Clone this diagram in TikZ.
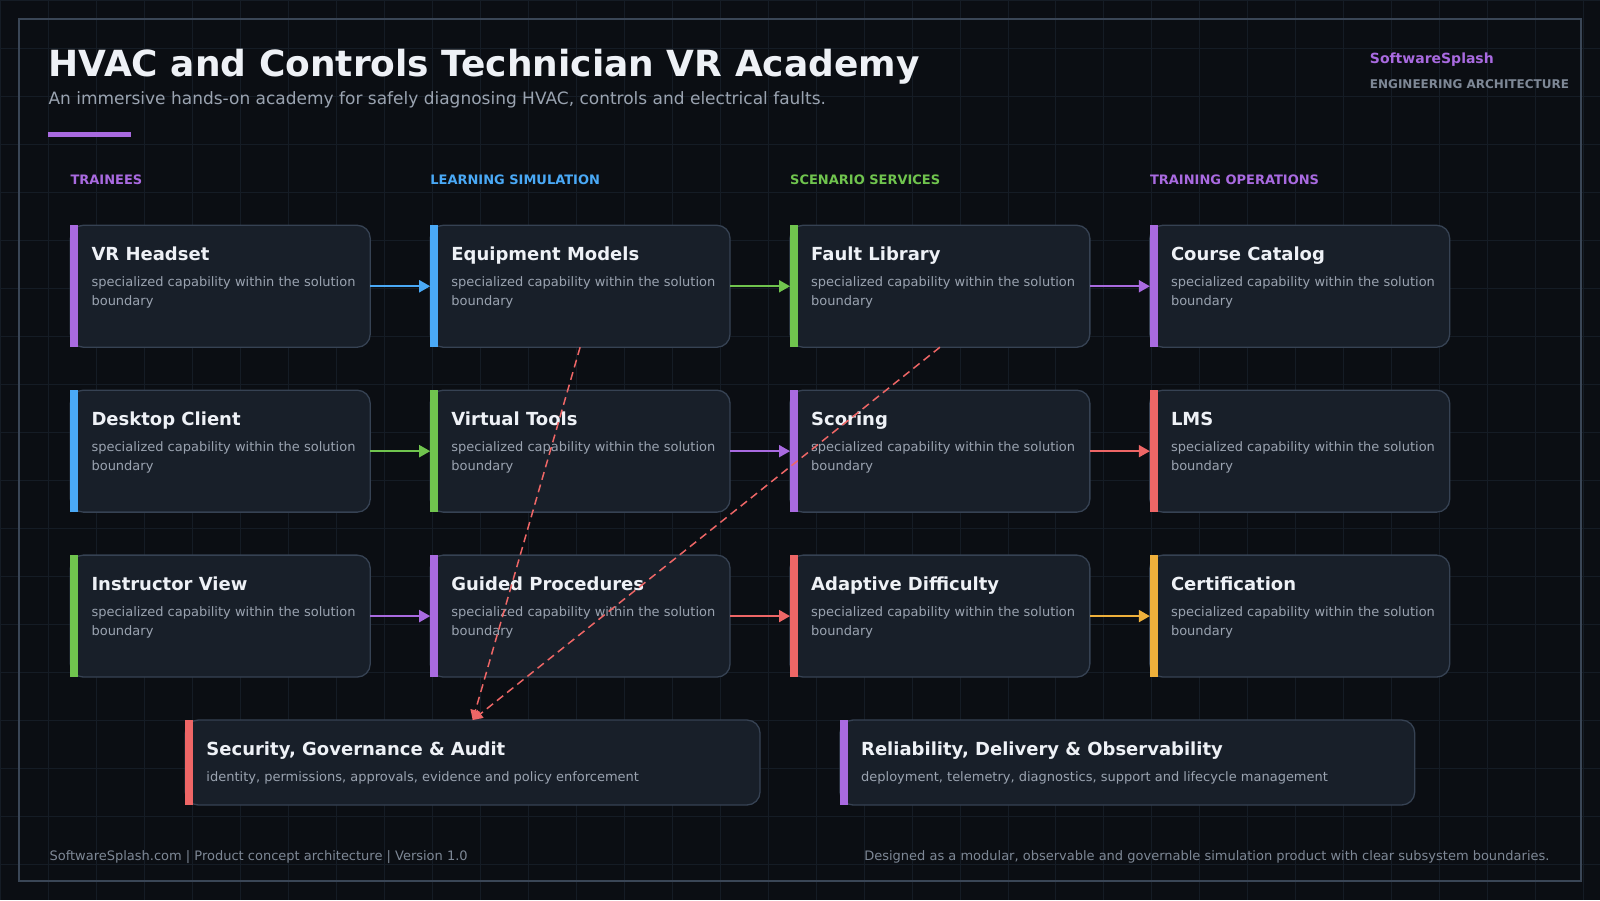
\documentclass[tikz,border=0pt]{standalone}
\usepackage{fontspec}
\setmainfont{DejaVu Sans}
\usepackage{xcolor}
\usetikzlibrary{arrows.meta,positioning,calc}

\definecolor{pagebg}{HTML}{0B0E13}
\definecolor{gridcol}{HTML}{151C25}
\definecolor{framecol}{HTML}{3A4656}
\definecolor{cardfill}{HTML}{181F29}
\definecolor{cardline}{HTML}{364253}
\definecolor{headtext}{HTML}{EEF1F6}
\definecolor{softtext}{HTML}{9AA3B0}
\definecolor{dimtext}{HTML}{7E8896}
\definecolor{accpurple}{HTML}{A96AE0}
\definecolor{accblue}{HTML}{4AA9F6}
\definecolor{accgreen}{HTML}{70C44E}
\definecolor{accred}{HTML}{EE6666}
\definecolor{accorange}{HTML}{EFB03B}

\begin{document}
\begin{tikzpicture}[
  x=1pt, y=-1pt,
  card/.style={draw=cardline,fill=cardfill,line width=1.3pt,rounded corners=13pt,minimum width=300pt,minimum height=122pt,inner sep=0pt,outer sep=0pt,anchor=north west},
  widecard/.style={card,minimum width=575pt,minimum height=85pt},
  ctitle/.style={anchor=base west,inner sep=0pt,text=headtext,font=\fontsize{18}{22}\selectfont\bfseries},
  cdesc/.style={anchor=north west,inner sep=0pt,align=left,text=softtext,font=\fontsize{13}{19.5}\selectfont},
  colhead/.style={anchor=west,inner sep=0pt,text=#1,font=\fontsize{13}{15}\selectfont\bfseries},
  flow/.style={-{Triangle[length=11pt,width=12pt]},line width=2pt,draw=#1},
  audit/.style={-{Triangle[length=10pt,width=10pt]},line width=1.5pt,draw=accred,dash pattern=on 8pt off 5pt},
  node distance=43pt and 60pt
]
% backdrop
\fill[pagebg] (0,0) rectangle (1600,900);
\draw[gridcol,line width=0.8pt] (0,900) grid[step=48pt] (1600,0);
\draw[framecol,line width=2pt] (19,19) rectangle (1581,881);

% heading
\node[anchor=base west,inner sep=0pt,text=headtext,font=\fontsize{36}{40}\selectfont\bfseries] (title) at (48,76) {HVAC and Controls Technician VR Academy};
\node[anchor=base west,inner sep=0pt,text=softtext,font=\fontsize{17}{20}\selectfont] (subtitle) at (48,104) {An immersive hands-on academy for safely diagnosing HVAC, controls and electrical faults.};
\fill[accpurple] (48,132) rectangle (131,137);
\node[anchor=base west,inner sep=0pt,text=accpurple,font=\fontsize{14}{17}\selectfont\bfseries] (brand) at (1370,63) {SoftwareSplash};
\node[anchor=base west,inner sep=0pt,text=dimtext,font=\fontsize{12}{14}\selectfont\bfseries] (brandsub) at (1370,88) {ENGINEERING ARCHITECTURE};

% lanes
\node[colhead=accpurple] (lane1) at (70,179) {TRAINEES};
\node[colhead=accblue] (lane2) at (430,179) {LEARNING SIMULATION};
\node[colhead=accgreen] (lane3) at (790,179) {SCENARIO SERVICES};
\node[colhead=accpurple] (lane4) at (1150,179) {TRAINING OPERATIONS};

% cards
\node[card] (vr) at (70,225) {};
\node[card,right=of vr] (equip) {};
\node[card,right=of equip] (fault) {};
\node[card,right=of fault] (catalog) {};
\node[card,below=of vr] (desktop) {};
\node[card,right=of desktop] (tools) {};
\node[card,right=of tools] (scoring) {};
\node[card,right=of scoring] (lms) {};
\node[card,below=of desktop] (instructor) {};
\node[card,right=of instructor] (guided) {};
\node[card,right=of guided] (adaptive) {};
\node[card,right=of adaptive] (cert) {};
\node[widecard] (security) at (185,720) {};
\node[widecard,right=80pt of security] (reliability) {};

% accent bars
\fill[accpurple] (vr.north west) rectangle ([xshift=8pt]vr.south west);
\fill[accblue] (equip.north west) rectangle ([xshift=8pt]equip.south west);
\fill[accgreen] (fault.north west) rectangle ([xshift=8pt]fault.south west);
\fill[accpurple] (catalog.north west) rectangle ([xshift=8pt]catalog.south west);
\fill[accblue] (desktop.north west) rectangle ([xshift=8pt]desktop.south west);
\fill[accgreen] (tools.north west) rectangle ([xshift=8pt]tools.south west);
\fill[accpurple] (scoring.north west) rectangle ([xshift=8pt]scoring.south west);
\fill[accred] (lms.north west) rectangle ([xshift=8pt]lms.south west);
\fill[accgreen] (instructor.north west) rectangle ([xshift=8pt]instructor.south west);
\fill[accpurple] (guided.north west) rectangle ([xshift=8pt]guided.south west);
\fill[accred] (adaptive.north west) rectangle ([xshift=8pt]adaptive.south west);
\fill[accorange] (cert.north west) rectangle ([xshift=8pt]cert.south west);
\fill[accred] (security.north west) rectangle ([xshift=8pt]security.south west);
\fill[accpurple] (reliability.north west) rectangle ([xshift=8pt]reliability.south west);

% card texts
\node[ctitle] (vr-t) at ([xshift=21pt,yshift=-35pt]vr.north west) {VR Headset};
\node[cdesc] (vr-d) at ([xshift=21pt,yshift=-51pt]vr.north west) {specialized capability within the solution\\boundary};
\node[ctitle] (equip-t) at ([xshift=21pt,yshift=-35pt]equip.north west) {Equipment Models};
\node[cdesc] (equip-d) at ([xshift=21pt,yshift=-51pt]equip.north west) {specialized capability within the solution\\boundary};
\node[ctitle] (fault-t) at ([xshift=21pt,yshift=-35pt]fault.north west) {Fault Library};
\node[cdesc] (fault-d) at ([xshift=21pt,yshift=-51pt]fault.north west) {specialized capability within the solution\\boundary};
\node[ctitle] (catalog-t) at ([xshift=21pt,yshift=-35pt]catalog.north west) {Course Catalog};
\node[cdesc] (catalog-d) at ([xshift=21pt,yshift=-51pt]catalog.north west) {specialized capability within the solution\\boundary};
\node[ctitle] (desktop-t) at ([xshift=21pt,yshift=-35pt]desktop.north west) {Desktop Client};
\node[cdesc] (desktop-d) at ([xshift=21pt,yshift=-51pt]desktop.north west) {specialized capability within the solution\\boundary};
\node[ctitle] (tools-t) at ([xshift=21pt,yshift=-35pt]tools.north west) {Virtual Tools};
\node[cdesc] (tools-d) at ([xshift=21pt,yshift=-51pt]tools.north west) {specialized capability within the solution\\boundary};
\node[ctitle] (scoring-t) at ([xshift=21pt,yshift=-35pt]scoring.north west) {Scoring};
\node[cdesc] (scoring-d) at ([xshift=21pt,yshift=-51pt]scoring.north west) {specialized capability within the solution\\boundary};
\node[ctitle] (lms-t) at ([xshift=21pt,yshift=-35pt]lms.north west) {LMS};
\node[cdesc] (lms-d) at ([xshift=21pt,yshift=-51pt]lms.north west) {specialized capability within the solution\\boundary};
\node[ctitle] (instructor-t) at ([xshift=21pt,yshift=-35pt]instructor.north west) {Instructor View};
\node[cdesc] (instructor-d) at ([xshift=21pt,yshift=-51pt]instructor.north west) {specialized capability within the solution\\boundary};
\node[ctitle] (guided-t) at ([xshift=21pt,yshift=-35pt]guided.north west) {Guided Procedures};
\node[cdesc] (guided-d) at ([xshift=21pt,yshift=-51pt]guided.north west) {specialized capability within the solution\\boundary};
\node[ctitle] (adaptive-t) at ([xshift=21pt,yshift=-35pt]adaptive.north west) {Adaptive Difficulty};
\node[cdesc] (adaptive-d) at ([xshift=21pt,yshift=-51pt]adaptive.north west) {specialized capability within the solution\\boundary};
\node[ctitle] (cert-t) at ([xshift=21pt,yshift=-35pt]cert.north west) {Certification};
\node[cdesc] (cert-d) at ([xshift=21pt,yshift=-51pt]cert.north west) {specialized capability within the solution\\boundary};
\node[ctitle] (security-t) at ([xshift=21pt,yshift=-35pt]security.north west) {Security, Governance \& Audit};
\node[cdesc] (security-d) at ([xshift=21pt,yshift=-51pt]security.north west) {identity, permissions, approvals, evidence and policy enforcement};
\node[ctitle] (reliability-t) at ([xshift=21pt,yshift=-35pt]reliability.north west) {Reliability, Delivery \& Observability};
\node[cdesc] (reliability-d) at ([xshift=21pt,yshift=-51pt]reliability.north west) {deployment, telemetry, diagnostics, support and lifecycle management};

% flows
\draw[flow=accblue] (vr) -- (equip);
\draw[flow=accgreen] (equip) -- (fault);
\draw[flow=accpurple] (fault) -- (catalog);
\draw[flow=accgreen] (desktop) -- (tools);
\draw[flow=accpurple] (tools) -- (scoring);
\draw[flow=accred] (scoring) -- (lms);
\draw[flow=accpurple] (instructor) -- (guided);
\draw[flow=accred] (guided) -- (adaptive);
\draw[flow=accorange] (adaptive) -- (cert);
\draw[audit] (equip.south) -- (security.north);
\draw[audit] (fault.south) -- (security.north);

% footer
\node[anchor=base west,inner sep=0pt,text=dimtext,font=\fontsize{13}{16}\selectfont] (foot-l) at (49,861) {SoftwareSplash.com | Product concept architecture | Version 1.0};
\node[anchor=base east,inner sep=0pt,text=dimtext,font=\fontsize{13}{16}\selectfont] (foot-r) at (1550,861) {Designed as a modular, observable and governable simulation product with clear subsystem boundaries.};
\end{tikzpicture}
\end{document}
